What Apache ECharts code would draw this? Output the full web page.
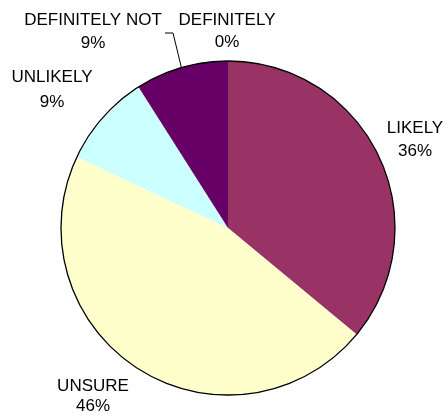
<!DOCTYPE html>
<html>
<head>
<meta charset="utf-8">
<script src="https://cdn.jsdelivr.net/npm/echarts@6/dist/echarts.min.js"></script>
<style>
  html, body { margin: 0; padding: 0; background: #fff; }
  #chart { width: 448px; height: 417px; }
</style>
</head>
<body>
<div id="chart"></div>
<script>
// Survey answers, in clockwise order from 12 o'clock
const categories = ['DEFINITELY', 'LIKELY', 'UNSURE', 'UNLIKELY', 'DEFINITELY NOT'];
const percents = [0, 36, 46, 9, 9];
const sliceColors = ['#9999FF', '#993366', '#FFFFCC', '#CCFFFF', '#660066'];

// Where each two-line label sits (centre of the text block) and its line spacing
const labelSpots = {
  'DEFINITELY':     { x: 227, y: 31.5, lh: 22 },
  'LIKELY':         { x: 415, y: 140,  lh: 23 },
  'UNSURE':         { x: 93,  y: 396,  lh: 20 },
  'UNLIKELY':       { x: 52,  y: 90,   lh: 25 },
  'DEFINITELY NOT': { x: 93,  y: 32,   lh: 23.5 }
};

const CENTER = [228, 228];
const RADIUS = 167;

const chart = echarts.init(document.getElementById('chart'), null, { renderer: 'canvas' });

const pieData = categories.map((name, i) => ({
  name: name,
  value: percents[i],
  itemStyle: { color: sliceColors[i] },
  label: { lineHeight: labelSpots[name].lh },
  labelLine: { show: name === 'DEFINITELY NOT' }
}));

chart.setOption({
  backgroundColor: '#ffffff',
  animation: false,
  series: [
    {
      type: 'pie',
      center: CENTER,
      radius: [0, RADIUS],
      startAngle: 90,
      clockwise: true,
      avoidLabelOverlap: false,
      stillShowZeroSum: true,
      minShowLabelAngle: 0,
      data: pieData,
      itemStyle: { borderWidth: 0 },
      emphasis: { disabled: true },
      label: {
        show: true,
        position: 'outside',
        formatter: p => p.name + '\n' + p.value + '%',
        fontFamily: 'Liberation Sans, Arial, sans-serif',
        fontSize: 17,
        color: '#000',
        align: 'center'
      },
      labelLine: {
        show: false,
        lineStyle: { color: '#000', width: 1 }
      },
      labelLayout: function (params) {
        const name = categories[params.dataIndex];
        const spot = labelSpots[name];
        const out = {
          x: spot.x,
          y: spot.y,
          align: 'center',
          verticalAlign: 'middle',
          hideOverlap: false,
          moveOverlap: false
        };
        if (name === 'DEFINITELY NOT' && params.labelLinePoints) {
          const start = params.labelLinePoints[0];
          out.labelLinePoints = [start, [173, 33], [165, 33]];
        }
        return out;
      }
    },
    {
      // black rim around the whole pie
      type: 'pie',
      silent: true,
      center: CENTER,
      radius: [0, RADIUS],
      label: { show: false },
      labelLine: { show: false },
      data: [{ value: 1, itemStyle: { color: 'rgba(0,0,0,0)', borderColor: '#000', borderWidth: 1.3 } }]
    }
  ]
});
</script>
</body>
</html>
